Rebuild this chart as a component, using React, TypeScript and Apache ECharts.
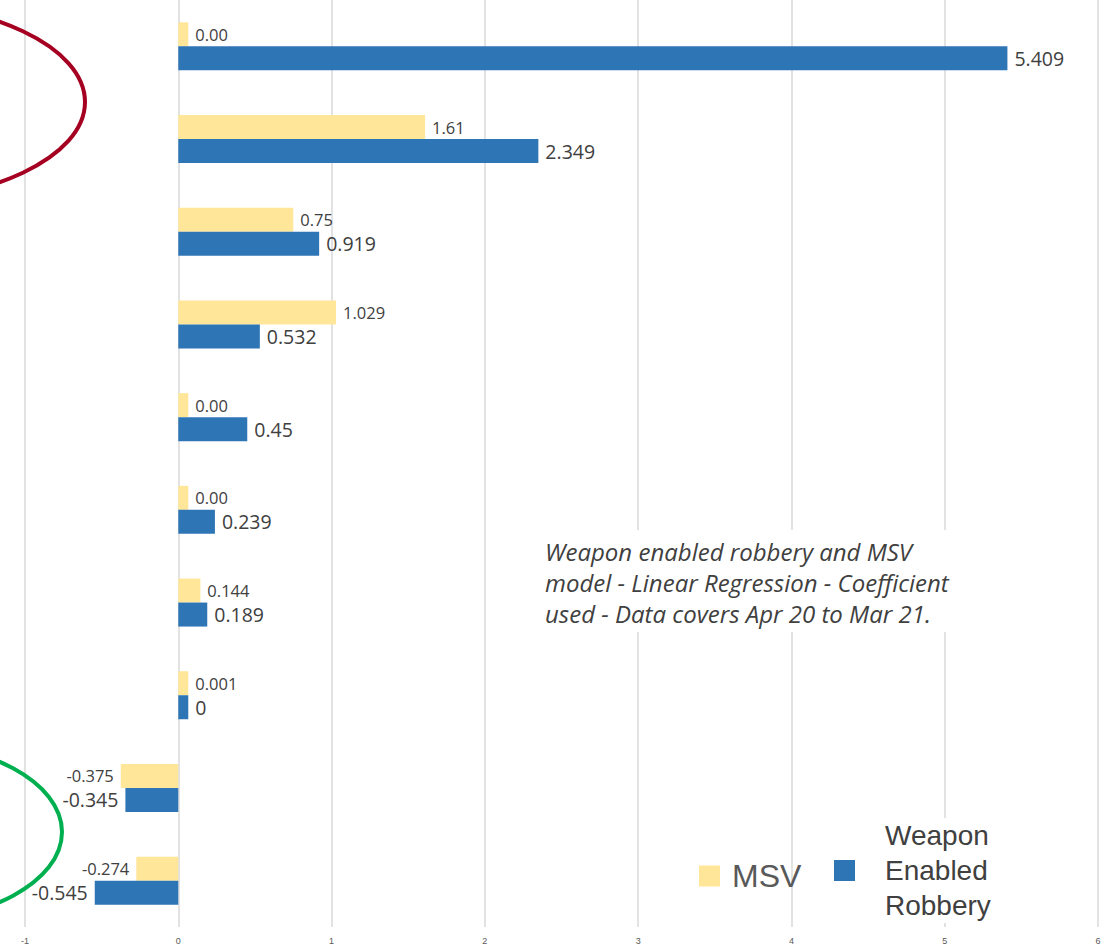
import React, { useEffect, useRef } from "react";
import * as echarts from "echarts";

const categories = [
  "Factor 1", "Factor 2", "Factor 3", "Factor 4", "Factor 5",
  "Factor 6", "Factor 7", "Factor 8", "Factor 9", "Factor 10",
];
const msvValues = [0, 1.61, 0.75, 1.029, 0, 0, 0.144, 0.001, -0.375, -0.274];
const msvLabels = ["0.00", "1.61", "0.75", "1.029", "0.00", "0.00", "0.144", "0.001", "-0.375", "-0.274"];
const weaponValues = [5.409, 2.349, 0.919, 0.532, 0.45, 0.239, 0.189, 0, -0.345, -0.545];
const weaponLabels = ["5.409", "2.349", "0.919", "0.532", "0.45", "0.239", "0.189", "0", "-0.345", "-0.545"];
const xTicks = { min: -1, max: 6, interval: 1 };
const noteLines = [
  "Weapon enabled robbery and MSV",
  "model - Linear Regression - Coefficient",
  "used - Data covers Apr 20 to Mar 21.",
];

const MSV_COLOR = "#FFE699";
const WEAPON_COLOR = "#2E75B6";

export default function App() {
  const ref = useRef<HTMLDivElement>(null);
  useEffect(() => {
    document.body.style.margin = "0";
    const chart = echarts.init(ref.current!, undefined, { renderer: "svg" });
    const mkData = (vals: number[]) =>
      vals.map((v) => ({
        value: v,
        label: { position: v < 0 ? "left" : "right" },
      }));
    chart.setOption({
      animation: false,
      grid: { left: 25, right: 9, top: 0, bottom: 21, containLabel: false },
      xAxis: {
        type: "value",
        min: xTicks.min,
        max: xTicks.max,
        interval: xTicks.interval,
        axisLine: { show: false },
        axisTick: { show: false },
        axisLabel: { fontSize: 9, color: "#595959", margin: 9, fontFamily: "Liberation Sans Narrow, Liberation Sans, sans-serif" },
        splitLine: { show: true, lineStyle: { color: "#d9d9d9", width: 1.5 } },
      },
      yAxis: {
        type: "category",
        data: categories,
        inverse: true,
        axisLine: { show: false },
        axisTick: { show: false },
        axisLabel: { show: false },
        splitLine: { show: false },
      },
      legend: [
        {
          data: ["MSV"],
          left: 699,
          top: 856,
          padding: 0,
          icon: "rect",
          itemWidth: 21,
          itemHeight: 21,
          textStyle: { fontSize: 32, lineHeight: 40, color: "#595959", fontFamily: "Liberation Sans, Arial, sans-serif", padding: [0, 0, 0, 7] },
        },
        {
          data: ["Weapon Enabled Robbery"],
          left: 834,
          top: 818,
          icon: "rect",
          itemWidth: 21,
          itemHeight: 21,
          backgroundColor: "#ffffff",
          padding: [0, 10, 0, 0],
          formatter: () => "Weapon\nEnabled\nRobbery",
          textStyle: { fontSize: 28, lineHeight: 35, color: "#404040", fontFamily: "Liberation Sans, Arial, sans-serif", padding: [0, 0, 0, 25] },
        },
      ],
      graphic: [
        {
          type: "ellipse",
          shape: { cx: -127, cy: 102, rx: 212, ry: 100 },
          style: { fill: "none", stroke: "#A50021", lineWidth: 4 },
          z: 100,
        },
        {
          type: "ellipse",
          shape: { cx: -105, cy: 832, rx: 167, ry: 90 },
          style: { fill: "none", stroke: "#00B050", lineWidth: 4 },
          z: 100,
        },
        {
          type: "rect",
          shape: { x: 535, y: 530, width: 432, height: 102 },
          style: { fill: "#ffffff" },
          z: 10,
        },
        {
          type: "text",
          x: 545,
          y: 536,
          z: 11,
          style: {
            text: noteLines.join("\n"),
            fontSize: 24,
            lineHeight: 31,
            fontStyle: "italic",
            fontFamily: "Open Sans, sans-serif",
            fill: "#404040",
          },
        },
      ],
      series: [
        {
          name: "MSV",
          type: "bar",
          data: mkData(msvValues),
          barWidth: 24,
          barGap: "0%",
          barMinHeight: 10,
          itemStyle: { color: MSV_COLOR },
          label: {
            show: true,
            distance: 7,
            fontSize: 16.5,
            color: "#404040",
            fontFamily: "Open Sans, sans-serif",
            formatter: (p: any) => msvLabels[p.dataIndex],
          },
        },
        {
          name: "Weapon Enabled Robbery",
          type: "bar",
          data: mkData(weaponValues),
          barWidth: 24,
          barGap: "0%",
          barMinHeight: 10,
          itemStyle: { color: WEAPON_COLOR },
          label: {
            show: true,
            distance: 7,
            fontSize: 19.5,
            color: "#404040",
            fontFamily: "Open Sans, sans-serif",
            formatter: (p: any) => weaponLabels[p.dataIndex],
          },
        },
      ],
    });
    return () => chart.dispose();
  }, []);
  return <div ref={ref} style={{ width: 1107, height: 948 }} />;
}
